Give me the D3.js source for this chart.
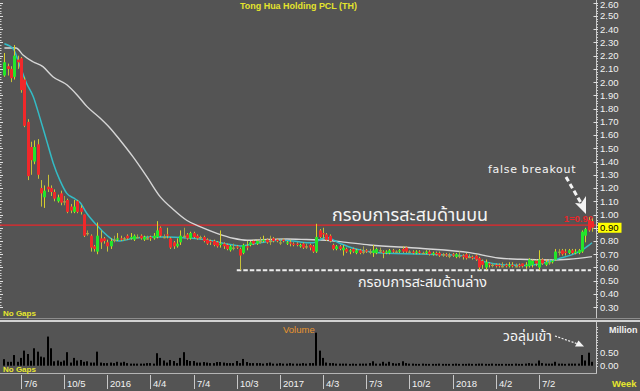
<!DOCTYPE html>
<html><head><meta charset="utf-8">
<script src="https://cdn.jsdelivr.net/npm/d3@7"></script>
<style>
html,body{margin:0;padding:0;background:#545454;}
svg{display:block;}
</style></head><body>
<svg id="c" width="640" height="391"></svg>
<script>
// ---------------- DATA ----------------
const title = "Tong Hua Holding PCL (TH)";
const firstWeek = "2015-06-01";   // Monday of first weekly candle
const opens = [2.05,2.12,2.10,2.04,2.17,2.18,2.02,1.70,1.51,1.40,1.53,1.20,1.13,1.21,1.20,1.17,1.10,1.16,1.10,1.11,
1.06,1.02,1.10,1.05,1.00,0.86,0.84,0.76,0.72,0.82,0.82,0.79,0.76,0.81,0.81,0.82,0.82,0.84,0.82,0.81,
0.83,0.84,0.81,0.82,0.83,0.82,0.83,0.90,0.83,0.85,0.82,0.79,0.76,0.79,0.84,0.85,0.82,0.86,0.84,0.83,
0.83,0.81,0.80,0.80,0.79,0.77,0.78,0.77,0.73,0.75,0.76,0.74,0.71,0.76,0.77,0.80,0.78,0.80,0.80,0.81,
0.80,0.82,0.81,0.79,0.81,0.78,0.79,0.78,0.78,0.76,0.78,0.76,0.77,0.76,0.72,0.88,0.86,0.85,0.84,0.77,
0.74,0.76,0.73,0.74,0.72,0.74,0.71,0.73,0.72,0.73,0.72,0.71,0.71,0.73,0.72,0.71,0.71,0.73,0.72,0.72,
0.74,0.75,0.72,0.72,0.71,0.72,0.71,0.71,0.72,0.70,0.71,0.71,0.70,0.70,0.69,0.70,0.68,0.69,0.69,0.70,
0.68,0.68,0.69,0.67,0.65,0.60,0.63,0.62,0.62,0.62,0.61,0.62,0.61,0.62,0.61,0.62,0.63,0.61,0.61,0.62,
0.65,0.60,0.66,0.62,0.64,0.64,0.66,0.72,0.73,0.72,0.71,0.73,0.71,0.71,0.72,0.84,0.96,0.95];
const highs = [2.22,2.14,2.12,2.28,2.20,2.19,2.04,1.72,1.55,1.56,1.57,1.26,1.22,1.30,1.22,1.19,1.15,1.18,1.14,1.12,
1.08,1.11,1.11,1.07,1.00,0.88,0.85,0.77,0.94,0.88,0.83,0.81,0.82,0.84,0.86,0.84,0.83,0.85,0.86,0.85,
0.85,0.85,0.84,0.84,0.84,0.86,0.95,0.91,0.85,0.90,0.83,0.80,0.82,0.88,0.90,0.86,0.87,0.87,0.85,0.84,
0.84,0.82,0.81,0.81,0.80,0.88,0.79,0.78,0.77,0.78,0.77,0.75,0.78,0.80,0.80,0.81,0.81,0.83,0.84,0.82,
0.84,0.83,0.82,0.81,0.82,0.80,0.81,0.79,0.79,0.78,0.79,0.78,0.78,0.77,0.93,0.89,0.90,0.86,0.85,0.78,
0.77,0.77,0.77,0.75,0.74,0.75,0.74,0.74,0.76,0.74,0.74,0.77,0.75,0.75,0.73,0.73,0.74,0.74,0.73,0.74,
0.76,0.76,0.73,0.73,0.73,0.73,0.72,0.73,0.73,0.72,0.72,0.72,0.71,0.71,0.71,0.71,0.71,0.72,0.70,0.71,
0.70,0.69,0.70,0.68,0.66,0.66,0.64,0.63,0.63,0.63,0.64,0.63,0.64,0.64,0.63,0.63,0.63,0.64,0.67,0.66,
0.66,0.73,0.67,0.66,0.66,0.66,0.74,0.74,0.74,0.74,0.74,0.74,0.74,0.74,0.88,0.90,0.98,0.97];
const lows = [2.04,2.05,2.00,2.02,2.10,1.92,1.66,1.26,1.30,1.38,1.27,1.06,1.05,1.17,1.14,1.10,1.09,1.07,1.07,1.01,
1.01,1.01,1.01,1.00,0.83,0.84,0.72,0.72,0.70,0.74,0.78,0.72,0.74,0.79,0.80,0.80,0.80,0.81,0.81,0.80,
0.82,0.81,0.80,0.81,0.80,0.81,0.82,0.83,0.82,0.82,0.74,0.74,0.75,0.77,0.82,0.81,0.81,0.82,0.81,0.81,
0.79,0.77,0.77,0.76,0.75,0.75,0.74,0.73,0.72,0.73,0.74,0.58,0.70,0.73,0.76,0.77,0.77,0.78,0.79,0.78,
0.77,0.79,0.79,0.77,0.79,0.77,0.76,0.76,0.76,0.75,0.74,0.74,0.73,0.71,0.71,0.82,0.82,0.80,0.79,0.73,
0.73,0.73,0.69,0.71,0.70,0.71,0.70,0.70,0.70,0.71,0.70,0.68,0.70,0.71,0.67,0.70,0.70,0.71,0.71,0.71,
0.71,0.71,0.71,0.70,0.70,0.70,0.70,0.70,0.69,0.69,0.69,0.68,0.68,0.68,0.67,0.68,0.67,0.67,0.66,0.66,
0.67,0.66,0.65,0.58,0.59,0.58,0.60,0.60,0.60,0.60,0.60,0.60,0.60,0.60,0.60,0.60,0.60,0.59,0.60,0.60,
0.61,0.58,0.62,0.61,0.62,0.63,0.65,0.69,0.69,0.69,0.70,0.70,0.70,0.70,0.71,0.79,0.87,0.87];
const closes = [2.15,2.10,2.03,2.20,2.15,1.94,1.67,1.29,1.41,1.51,1.30,1.16,1.18,1.19,1.17,1.12,1.13,1.09,1.10,1.02,
1.03,1.06,1.02,1.02,0.84,0.86,0.75,0.74,0.84,0.79,0.80,0.76,0.80,0.81,0.82,0.81,0.82,0.82,0.83,0.84,
0.83,0.82,0.83,0.82,0.82,0.84,0.88,0.84,0.83,0.84,0.75,0.76,0.78,0.84,0.84,0.82,0.86,0.83,0.82,0.83,
0.80,0.78,0.79,0.77,0.76,0.78,0.76,0.74,0.76,0.75,0.75,0.69,0.77,0.75,0.79,0.78,0.80,0.80,0.81,0.79,
0.80,0.80,0.80,0.79,0.80,0.79,0.78,0.77,0.77,0.77,0.75,0.76,0.75,0.72,0.83,0.83,0.85,0.81,0.80,0.74,
0.76,0.74,0.75,0.72,0.73,0.72,0.73,0.71,0.72,0.72,0.72,0.73,0.74,0.73,0.71,0.72,0.73,0.72,0.72,0.73,
0.72,0.72,0.72,0.71,0.72,0.71,0.71,0.72,0.70,0.71,0.70,0.69,0.70,0.69,0.69,0.69,0.70,0.69,0.68,0.67,
0.68,0.67,0.66,0.60,0.62,0.64,0.62,0.62,0.61,0.61,0.61,0.61,0.62,0.61,0.61,0.61,0.61,0.62,0.66,0.65,
0.63,0.66,0.63,0.64,0.64,0.65,0.72,0.72,0.70,0.71,0.73,0.71,0.72,0.73,0.87,0.89,0.88,0.90];
// weekly volume, millions of shares
const volumes = [0.25,0.15,0.15,0.41,0.15,0.30,0.58,0.45,0.19,0.67,0.54,0.35,0.32,1.12,0.67,0.17,0.20,0.15,0.20,0.52,
0.12,0.30,0.20,0.22,0.15,0.17,0.12,0.12,0.54,0.12,0.10,0.10,0.12,0.10,0.15,0.12,0.15,0.10,0.08,0.08,
0.08,0.08,0.08,0.10,0.10,0.08,0.48,0.30,0.20,0.12,0.22,0.18,0.10,0.30,0.52,0.22,0.18,0.18,0.12,0.12,
0.14,0.12,0.10,0.10,0.14,0.14,0.12,0.10,0.10,0.10,0.18,0.10,0.26,0.14,0.10,0.10,0.10,0.10,0.08,0.10,
0.12,0.08,0.08,0.10,0.08,0.08,0.10,0.08,0.08,0.08,0.10,0.08,0.10,0.10,1.27,0.58,0.30,0.12,0.10,0.10,
0.08,0.08,0.08,0.08,0.07,0.08,0.07,0.08,0.08,0.08,0.10,0.17,0.08,0.08,0.15,0.08,0.15,0.10,0.08,0.10,
0.17,0.10,0.08,0.08,0.07,0.07,0.08,0.07,0.07,0.07,0.07,0.08,0.07,0.07,0.07,0.07,0.08,0.07,0.07,0.07,
0.08,0.07,0.07,0.08,0.08,0.07,0.07,0.08,0.07,0.07,0.07,0.07,0.07,0.07,0.08,0.07,0.07,0.08,0.10,0.08,
0.08,0.20,0.10,0.08,0.08,0.08,0.15,0.08,0.08,0.07,0.08,0.08,0.08,0.08,0.41,0.20,0.50,0.15];
// moving averages: [week index, value]
const maFast = [[0,2.29],[2.7,2.25],[4.7,2.12],[6.7,1.99],[8.7,1.89],[10.7,1.73],[12.7,1.56],[14.7,1.39],[16.7,1.26],[18.8,1.16],
[20.8,1.125],[22.8,1.09],[24.8,1.01],[27.8,0.92],[29.7,0.87],[32.7,0.81],[34.8,0.80],[38.7,0.82],[44.8,0.83],[49,0.83],
[55,0.823],[58.9,0.815],[62.8,0.80],[67,0.778],[71,0.763],[74.9,0.778],[79.1,0.795],[83,0.805],[86.9,0.80],[91.1,0.787],
[93,0.787],[95,0.81],[97,0.826],[101,0.783],[105,0.745],[108.6,0.725],[115,0.707],[125,0.702],[135,0.694],[140,0.682],
[144.8,0.642],[150.8,0.619],[156.8,0.615],[160.8,0.626],[166.8,0.665],[171.8,0.705],[173.9,0.730],[175.9,0.765],[177,0.787]];
const maSlow = [[0,2.258],[3.5,2.258],[5.6,2.205],[8.6,2.154],[11.6,2.117],[14.6,2.041],[18.9,1.978],[21.9,1.903],[24.9,1.815],[28.8,1.729],
[31.8,1.654],[34.8,1.563],[38.7,1.437],[42.9,1.286],[46.9,1.135],[50.8,1.04],[55,0.955],[58.9,0.908],[64,0.858],[68.9,0.821],
[73.1,0.806],[79.1,0.811],[85.1,0.815],[91.1,0.811],[97,0.806],[103,0.79],[110,0.77],[125.2,0.745],[140.2,0.712],[148.8,0.672],
[155.3,0.662],[165.2,0.657],[170,0.662],[177,0.682]];
const priceTicks = [2.60,2.50,2.40,2.30,2.20,2.10,2.00,1.90,1.80,1.70,1.60,1.50,1.40,1.30,1.20,1.10,1.00,0.90,0.80,0.70,0.60,0.50,0.40,0.30];
const volumeTicks = [0.50,0.00];
const dateTicks = ["2015-07-06","2015-10-05","2016-01-04","2016-04-04","2016-07-04","2016-10-03","2017-01-02","2017-04-03","2017-07-03","2017-10-02","2018-01-01","2018-04-02","2018-07-02"];
const dateLabels = ["7/6","10/5","2016","4/4","7/4","10/3","2017","4/3","7/3","10/2","2018","4/2","7/2"];
const upperBox = 0.92, lowerBox = 0.58, lastPrice = 0.90;
const lowerBoxStart = "2016-10-03";

// ---------------- DRAW ----------------
const svg = d3.select("#c");
const W = 640, H = 391;
const BG = "#545454";
svg.append("rect").attr("width", W).attr("height", H).attr("fill", BG);

const parse = d3.utcParse("%Y-%m-%d");
const t0 = parse(firstWeek);
const weekDate = i => d3.utcDay.offset(t0, i * 7);
const weekDateF = w => new Date(t0.getTime() + w * 7 * 86400000);
const n = closes.length;
const x = d3.scaleUtc().domain([t0, weekDate(n - 1)]).range([4.4, 592]);
const y = d3.scaleLinear().domain([0.30, 2.60]).range([307.2, 2.7]);
const yv = d3.scaleLinear().domain([0, 0.5]).range([365.7, 352.7]);

const FONT = "'Liberation Sans', Arial, sans-serif";
const THAI = "'Noto Sans Thai','Noto Sans Thai UI','Loma','Garuda','Noto Sans','DejaVu Sans',sans-serif";

// title
svg.append("text").attr("x", 240).attr("y", 8.5).text(title)
  .attr("font-family", FONT).attr("font-size", 9.5).attr("font-weight", "bold")
  .attr("fill", "#e4e42c").attr("textLength", 117).attr("lengthAdjust", "spacingAndGlyphs");

// panel frame lines
svg.append("line").attr("x1", 0).attr("x2", 640).attr("y1", 318.5).attr("y2", 318.5).attr("stroke", "#8c8c8c");
svg.append("line").attr("x1", 0).attr("x2", 640).attr("y1", 321).attr("y2", 321).attr("stroke", "#d2d2d2").attr("stroke-width", 2);
svg.append("line").attr("x1", 0).attr("x2", 597).attr("y1", 373.5).attr("y2", 373.5).attr("stroke", "#b4b4b4");

// right axis (price)
const gR = svg.append("g").attr("transform", "translate(596.5,0)");
gR.append("line").attr("y1", 0).attr("y2", 318).attr("stroke", "#c8c8c8");
const minor = d3.range(0.30, 2.61, 0.02);
gR.selectAll("line.mn").data(minor).join("line").attr("class", "mn")
  .attr("x1", 0).attr("x2", 1.5).attr("y1", d => Math.round(y(d)) + 0.5).attr("y2", d => Math.round(y(d)) + 0.5)
  .attr("stroke", "#d0d0d0");
gR.selectAll("line.mj").data(priceTicks).join("line").attr("class", "mj")
  .attr("x1", -3).attr("x2", 1.5).attr("y1", d => Math.round(y(d)) + 0.5).attr("y2", d => Math.round(y(d)) + 0.5)
  .attr("stroke", "#e0e0e0");
svg.selectAll("text.pt").data(priceTicks).join("text").attr("class", "pt")
  .attr("x", 600).attr("y", d => Math.max(7.6, y(d) + 3.4)).text(d => d.toFixed(2))
  .attr("font-family", FONT).attr("font-size", 9.5).attr("fill", "#f2f2f2");

// left tick marks
const gL = svg.append("g");
gL.selectAll("line.lm").data(minor).join("line").attr("class", "lm")
  .attr("x1", 0).attr("x2", 1.5).attr("y1", d => Math.round(y(d)) + 0.5).attr("y2", d => Math.round(y(d)) + 0.5)
  .attr("stroke", "#cfcfcf");
gL.selectAll("line.lj").data(priceTicks).join("line").attr("class", "lj")
  .attr("x1", 0).attr("x2", 3).attr("y1", d => Math.round(y(d)) + 0.5).attr("y2", d => Math.round(y(d)) + 0.5)
  .attr("stroke", "#e0e0e0");

// last price tag
svg.append("rect").attr("x", 598).attr("y", y(lastPrice) - 5).attr("width", 23.5).attr("height", 10).attr("fill", "#ffff00");
svg.append("text").attr("x", 600).attr("y", y(lastPrice) + 3.4).text(lastPrice.toFixed(2))
  .attr("font-family", FONT).attr("font-size", 9.5).attr("fill", "#000");

// upper resistance line
svg.append("line").attr("x1", 0).attr("x2", 596).attr("y1", y(upperBox)).attr("y2", y(upperBox))
  .attr("stroke", "#e8262a").attr("stroke-width", 1.2);
svg.append("text").attr("x", 593).attr("y", y(upperBox) - 3).attr("text-anchor", "end")
  .text("1=" + upperBox.toFixed(2)).attr("font-family", FONT).attr("font-size", 9.5).attr("font-weight", "bold").attr("fill", "#e8262a");

// lower dashed support line
svg.append("line").attr("x1", x(parse(lowerBoxStart))).attr("x2", 591).attr("y1", y(lowerBox)).attr("y2", y(lowerBox))
  .attr("stroke", "#ececec").attr("stroke-width", 2).attr("stroke-dasharray", "4.5,2");

// moving averages
const lineGen = d3.line().x(d => x(weekDateF(d[0]))).y(d => y(d[1])).curve(d3.curveMonotoneX);
svg.append("path").attr("d", lineGen(maSlow)).attr("fill", "none").attr("stroke", "#d6d6d6").attr("stroke-width", 1.4);
svg.append("path").attr("d", lineGen(maFast)).attr("fill", "none").attr("stroke", "#33bcc6").attr("stroke-width", 1.5);

// candles
const candles = d3.range(n).map(i => ({ d: weekDate(i), o: opens[i], h: highs[i], l: lows[i], c: closes[i] }));
const gC = svg.append("g");
gC.selectAll("line.wk").data(candles).join("line").attr("class", "wk")
  .attr("x1", d => Math.round(x(d.d)) + 0.5).attr("x2", d => Math.round(x(d.d)) + 0.5)
  .attr("y1", d => y(d.h)).attr("y2", d => y(d.l))
  .attr("stroke", d => d.c > d.o ? "#d8d02a" : (d.c < d.o ? "#c8c038" : "#a8a244")).attr("stroke-width", 1);
gC.selectAll("rect.bd").data(candles).join("rect").attr("class", "bd")
  .attr("x", d => Math.round(x(d.d)) - 1).attr("width", 3)
  .attr("y", d => y(Math.max(d.o, d.c)))
  .attr("height", d => Math.max(1.2, Math.abs(y(d.o) - y(d.c))))
  .attr("fill", d => d.c > d.o ? "#22e62a" : (d.c < d.o ? "#f0282a" : "#aaa448"));

// No Gaps labels
svg.append("text").attr("x", 3).attr("y", 316).text("No Gaps").attr("font-family", FONT).attr("font-size", 8).attr("font-weight", "bold").attr("fill", "#e6e62e");
svg.append("text").attr("x", 3).attr("y", 372).text("No Gaps").attr("font-family", FONT).attr("font-size", 8).attr("font-weight", "bold").attr("fill", "#e6e62e");

// volume panel
svg.append("text").attr("x", 283).attr("y", 333).text("Volume").attr("font-family", FONT).attr("font-size", 9.5).attr("fill", "#e8952e");
svg.selectAll("rect.vb").data(candles.map((c, i) => ({ d: c.d, v: volumes[i] }))).join("rect").attr("class", "vb")
  .attr("x", d => Math.round(x(d.d)) - 1).attr("width", 2)
  .attr("y", d => yv(d.v)).attr("height", d => yv(0) - yv(d.v)).attr("fill", "#000");
const gV = svg.append("g").attr("transform", "translate(596.5,0)");
gV.append("line").attr("y1", 322).attr("y2", 373).attr("stroke", "#c8c8c8");
gV.selectAll("line.vm").data(d3.range(0, 1.6, 0.1)).join("line").attr("class", "vm")
  .attr("x1", 0).attr("x2", 1.5).attr("y1", d => Math.round(yv(d)) + 0.5).attr("y2", d => Math.round(yv(d)) + 0.5).attr("stroke", "#d0d0d0");
svg.selectAll("text.vt").data(volumeTicks).join("text").attr("class", "vt")
  .attr("x", 600).attr("y", d => yv(d) + 3.4).text(d => d.toFixed(2))
  .attr("font-family", FONT).attr("font-size", 9.5).attr("fill", "#f2f2f2");
svg.append("text").attr("x", 609).attr("y", 333).text("Million").attr("font-family", FONT).attr("font-size", 9).attr("font-weight", "bold").attr("fill", "#f0f0f0");

// x axis
svg.selectAll("line.xt").data(dateTicks).join("line").attr("class", "xt")
  .attr("x1", d => Math.round(x(parse(d))) + 0.5).attr("x2", d => Math.round(x(parse(d))) + 0.5)
  .attr("y1", 375).attr("y2", 389).attr("stroke", "#c8c8c8");
svg.selectAll("text.xl").data(dateTicks).join("text").attr("class", "xl")
  .attr("x", d => Math.round(x(parse(d))) + 3).attr("y", 386.5).text((d, i) => dateLabels[i])
  .attr("font-family", FONT).attr("font-size", 9.5).attr("fill", "#f2f2f2");
svg.append("text").attr("x", 612).attr("y", 386.5).text("Week").attr("font-family", FONT).attr("font-size", 9.5).attr("font-weight", "bold").attr("fill", "#e6e62e");

// annotations
svg.append("text").attr("x", 332).attr("y", 221).text("กรอบการสะสมด้านบน")
  .attr("font-family", THAI).attr("font-size", 18).attr("fill", "#f4f4f4")
  .attr("textLength", 156).attr("lengthAdjust", "spacingAndGlyphs");
svg.append("text").attr("x", 358).attr("y", 287).text("กรอบการสะสมด้านล่าง")
  .attr("font-family", THAI).attr("font-size", 14).attr("fill", "#f4f4f4")
  .attr("textLength", 129).attr("lengthAdjust", "spacingAndGlyphs");
svg.append("text").attr("x", 488).attr("y", 172.5).text("false breakout")
  .attr("font-family", "'DejaVu Sans', sans-serif").attr("font-size", 11).attr("letter-spacing", 0.7).attr("fill", "#f4f4f4");
svg.append("text").attr("x", 503).attr("y", 341).text("วอลุ่มเข้า")
  .attr("font-family", THAI).attr("font-size", 14).attr("fill", "#f4f4f4");

// arrows
svg.append("line").attr("x1", 566).attr("y1", 177).attr("x2", 581).attr("y2", 203)
  .attr("stroke", "#f4f4f4").attr("stroke-width", 3).attr("stroke-dasharray", "5,3");
svg.append("path").attr("d", "M586,214 L575,203 L581,203.5 L586,196 Z").attr("fill", "#f4f4f4");
svg.append("line").attr("x1", 555).attr("y1", 336).attr("x2", 578).attr("y2", 344)
  .attr("stroke", "#f4f4f4").attr("stroke-width", 1.2).attr("stroke-dasharray", "2,1.5");
svg.append("path").attr("d", "M584,346.5 L575,346.5 L578.5,340.5 Z").attr("fill", "#f4f4f4");
</script>
</body></html>
